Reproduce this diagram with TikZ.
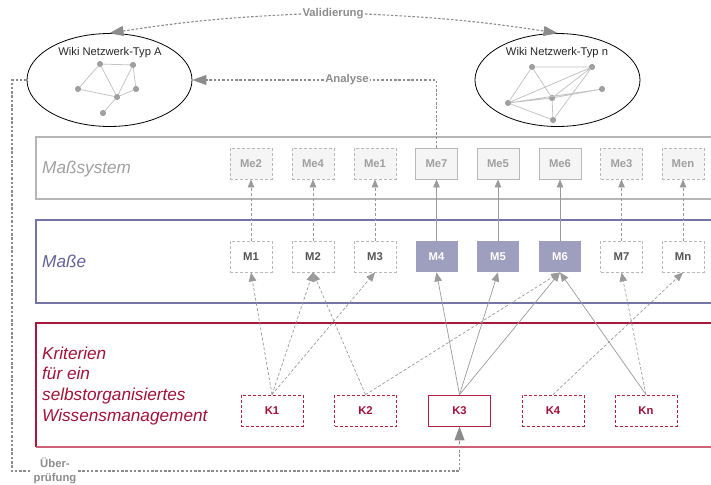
\documentclass[tikz,border=0pt]{standalone}
\usepackage{fontspec}
\setmainfont{Liberation Sans}
\usetikzlibrary{arrows.meta,shapes.geometric,calc}
\definecolor{cpanelg}{HTML}{B5B5B5}
\definecolor{cpanelb}{HTML}{7474A8}
\definecolor{cpanelr}{HTML}{A8183E}
\definecolor{cpanelr2}{HTML}{D06078}
\definecolor{ctextg}{HTML}{A0A0A0}
\definecolor{ctextb}{HTML}{62629A}
\definecolor{ctextr}{HTML}{A0123A}
\definecolor{cmefill}{HTML}{F5F5F5}
\definecolor{cmedraw}{HTML}{B8B8B8}
\definecolor{cmtext}{HTML}{555555}
\definecolor{cmfill}{HTML}{9E9EBE}
\definecolor{ckdraw}{HTML}{B0203F}
\definecolor{cconn}{HTML}{8C8C8C}
\definecolor{carr}{HTML}{9A9A9A}
\definecolor{cnet}{HTML}{C4C4C4}
\definecolor{cdot}{HTML}{A0A0A0}
\begin{document}
\begin{tikzpicture}[x=1pt,y=-1pt,
  boxfont/.style={font=\fontsize{11.3}{13}\selectfont\bfseries},
  basebox/.style={minimum width=42pt,minimum height=31pt,inner sep=0pt,line width=0.8pt,boxfont},
  mebox/.style={basebox,draw=cmedraw,fill=cmefill,text=ctextg},
  medash/.style={mebox,dash pattern=on 3pt off 2pt},
  mbox/.style={basebox,draw=cmedraw,fill=white,text=cmtext,dash pattern=on 3pt off 2pt},
  mfill/.style={basebox,fill=cmfill,text=white},
  kbox/.style={basebox,minimum width=62pt,draw=ckdraw,fill=white,text=ctextr},
  kdash/.style={kbox,dash pattern=on 3pt off 2pt},
  panel/.style={line width=1.3pt},
  paneltext/.style={font=\fontsize{17.2}{20}\selectfont\itshape,anchor=base west,inner sep=0pt},
  upsolid/.style={draw=carr,line width=0.8pt,-{Triangle[length=8pt,width=6.5pt]}},
  updash/.style={upsolid,dash pattern=on 3pt off 2pt},
  ksolid/.style={draw=carr,line width=0.7pt,-{Triangle[length=9pt,width=7.5pt]}},
  kdashl/.style={ksolid,dash pattern=on 3pt off 2pt},
  bigconn/.style={draw=cconn,line width=1.1pt,dash pattern=on 2.5pt off 1.8pt},
  bigtip/.style={-{Triangle[length=14pt,width=10pt]}},
  conlbl/.style={font=\fontsize{11.3}{14.5}\selectfont\bfseries,text=cconn,inner sep=1.5pt},
  netdot/.style={circle,fill=cdot,draw=cdot!85!black,line width=0.3pt,minimum size=5.5pt,inner sep=0pt},
  netedge/.style={draw=cnet,line width=0.8pt},
  wiki/.style={draw,ellipse,line width=0.8pt,minimum width=165pt,minimum height=93pt},
  wikitext/.style={font=\fontsize{11.2}{13}\selectfont,text=black!85}
]
\useasboundingbox (0,0) rectangle (711,484);

% panels
\draw[panel,draw=cpanelg] (711,137) -- (36,137) -- (36,199) -- (711,199);
\draw[panel,draw=cpanelb] (711,220) -- (36,220) -- (36,303) -- (711,303);
\draw[panel,draw=cpanelr] (711,323) -- (36,323) -- (36,447);
\draw[panel,draw=cpanelr2] (36,447) -- (711,447);

\node[paneltext,text=ctextg] (lms) at (42,173) {Maßsystem};
\node[paneltext,text=ctextb] (lm) at (42,267) {Maße};
\node[paneltext,text=ctextr] (lk1) at (42,359) {Kriterien};
\node[paneltext,text=ctextr] (lk2) at (42,379.7) {für ein};
\node[paneltext,text=ctextr] (lk3) at (42,400.4) {selbstorganisiertes};
\node[paneltext,text=ctextr] (lk4) at (42,421) {Wissensmanagement};

% wiki ellipses
\node[wiki] (wA) at (109.5,80) {};
\node[wikitext] (wAl) at (110,53) {Wiki Netzwerk-Typ A};
\node[wiki] (wn) at (557.5,80) {};
\node[wikitext] (wnl) at (557,53) {Wiki Netzwerk-Typ n};

% network A
\node[netdot] (p) at (100,64) {};
\node[netdot] (q) at (133,65) {};
\node[netdot] (r) at (78,89) {};
\node[netdot] (s) at (136,89) {};
\node[netdot] (t) at (117,97) {};
\node[netdot] (u) at (103,113) {};
\draw[netedge] (p)--(q) (p)--(r) (p)--(t) (q)--(t) (q)--(s) (r)--(t) (s)--(t) (t)--(u);

% network n
\node[netdot] (na) at (532,67) {};
\node[netdot] (nb) at (592,67) {};
\node[netdot] (nc) at (602,89) {};
\node[netdot] (nd) at (552,98) {};
\node[netdot] (ne) at (508,103) {};
\node[netdot] (nf) at (553,120) {};
\draw[netedge] (na)--(nb) (na)--(ne) (na)--(nd) (nb)--(ne) (nb)--(nd) (nb)--(nf)
  (ne)--(nc) (ne)--(nd) (nd)--(nc) (ne)--(nf) (nd)--(nf);

% Me boxes
\node[medash] (Me2) at (251,163.5) {Me2};
\node[medash] (Me4) at (313,163.5) {Me4};
\node[medash] (Me1) at (375,163.5) {Me1};
\node[mebox]  (Me7) at (436.5,163.5) {Me7};
\node[mebox]  (Me5) at (498,163.5) {Me5};
\node[mebox]  (Me6) at (560,163.5) {Me6};
\node[medash] (Me3) at (621.5,163.5) {Me3};
\node[medash] (Men) at (683,163.5) {Men};

% M boxes
\node[mbox]  (M1) at (251,256.5) {M1};
\node[mbox]  (M2) at (313,256.5) {M2};
\node[mbox]  (M3) at (375,256.5) {M3};
\node[mfill] (M4) at (436.5,256.5) {M4};
\node[mfill] (M5) at (498,256.5) {M5};
\node[mfill] (M6) at (560,256.5) {M6};
\node[mbox]  (M7) at (621.5,256.5) {M7};
\node[mbox]  (Mn) at (683,256.5) {Mn};

% K boxes
\node[kdash] (K1) at (272,410.5) {K1};
\node[kdash] (K2) at (365.5,410.5) {K2};
\node[kbox]  (K3) at (459.5,410.5) {K3};
\node[kdash] (K4) at (553,410.5) {K4};
\node[kdash] (Kn) at (646,410.5) {Kn};

% M -> Me
\draw[updash]  (M1.north) -- (Me2.south);
\draw[updash]  (M2.north) -- (Me4.south);
\draw[updash]  (M3.north) -- (Me1.south);
\draw[upsolid] (M4.north) -- (Me7.south);
\draw[upsolid] (M5.north) -- (Me5.south);
\draw[upsolid] (M6.north) -- (Me6.south);
\draw[updash]  (M7.north) -- (Me3.south);
\draw[updash]  (Mn.north) -- (Men.south);

% K -> M
\draw[kdashl] (K1.north) -- (M1.south);
\draw[kdashl] (K1.north) -- (M2.south);
\draw[kdashl] (K1.north) -- (M3.south);
\draw[kdashl] (K2.north) -- (M2.south);
\draw[kdashl] (K2.north) -- (M6.south);
\draw[ksolid] (K3.north) -- (M4.south);
\draw[ksolid] (K3.north) -- (M5.south);
\draw[ksolid] (K3.north) -- (M6.south);
\draw[kdashl] (K4.north) -- (Mn.south);
\draw[ksolid] (Kn.north) -- (M6.south);
\draw[kdashl] (Kn.north) -- (M7.south);

% Validierung
\node[conlbl] (vL) at (333,14) {Validierung};
\draw[bigconn,bigtip] (vL.west) to[bend right=3] (wA.north);
\draw[bigconn,bigtip] (vL.east) to[bend left=3] (wn.north);

% Analyse
\node[conlbl] (aL) at (347,80) {Analyse};
\draw[bigconn] (Me7.north) |- (aL.east);
\draw[bigconn,bigtip] (aL.west) -- (wA.east);

% Ueberpruefung
\node[conlbl,align=center,fill=white] (uL) at (55,471) {Über-\\prüfung};
\coordinate (uC) at (12,80);
\draw[bigconn] (wA.west) -- (uC) |- (uL.west);
\draw[bigconn,bigtip] (uL.east) -| (K3.south);
\end{tikzpicture}
\end{document}
